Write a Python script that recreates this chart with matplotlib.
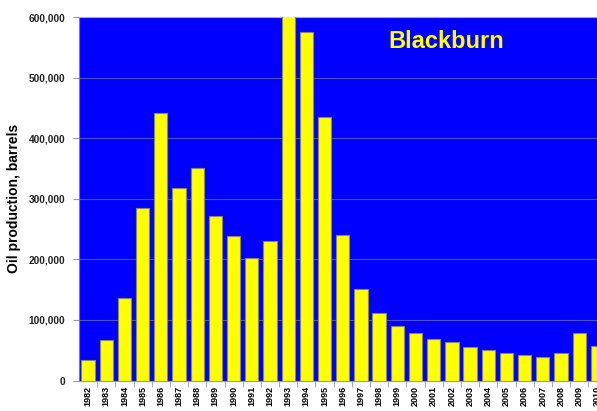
import matplotlib.pyplot as plt
from matplotlib.ticker import FuncFormatter, MultipleLocator

years = [str(y) for y in range(1982, 2011)]
production = [34000, 67000, 136000, 284000, 441000, 318000, 351000, 271000,
              238000, 203000, 231000, 620000, 576000, 435000, 240000, 151000,
              112000, 90000, 79000, 68000, 63000, 55000, 51000, 46000,
              41500, 39000, 45000, 79000, 57000]

plt.rcParams['font.family'] = ['Liberation Sans', 'DejaVu Sans']

fig = plt.figure(figsize=(5.97, 4.11), dpi=100)
ax = fig.add_axes([0.1323, 0.0742, 0.8836, 0.8844])
ax.set_facecolor('#0000FF')

x = range(len(years))
ax.bar(x, production, width=0.73, color='#FFFF00', edgecolor='#8a8a60',
       linewidth=0.8, zorder=3)

ax.set_xlim(-0.5, len(years) - 0.5)
ax.set_ylim(0, 600000)
ax.yaxis.set_major_locator(MultipleLocator(100000))
ax.yaxis.set_major_formatter(FuncFormatter(lambda v, p: f'{int(v):,}'))
ax.grid(axis='y', color='#5050c0', linewidth=0.8, zorder=1)

ax.set_xticks(list(x))
ax.set_xticklabels(years, rotation=90, fontsize=6.5, fontweight='bold')
ax.tick_params(axis='x', length=0, pad=4)
ax.set_xticks([i + 0.5 for i in x], minor=True)
ax.tick_params(axis='x', which='minor', length=4, color='#999999')
ax.tick_params(axis='y', labelsize=7.3, length=4, color='#999999', pad=6)
for lab in ax.get_yticklabels():
    lab.set_fontweight('bold')
    lab.set_color('#222222')

ax.spines['right'].set_visible(False)
ax.spines['top'].set_color('#aaaaaa')
ax.spines['left'].set_color('#7777bb')
ax.spines['bottom'].set_color('#999999')

ax.set_ylabel('Oil production, barrels', fontsize=10, fontweight='bold',
              labelpad=5)

fig.text(446 / 597, 1 - 41 / 411, 'Blackburn', color='#FFFF00', fontsize=17,
         fontweight='bold', ha='center', va='center')

fig.savefig('out.png', dpi=100)
